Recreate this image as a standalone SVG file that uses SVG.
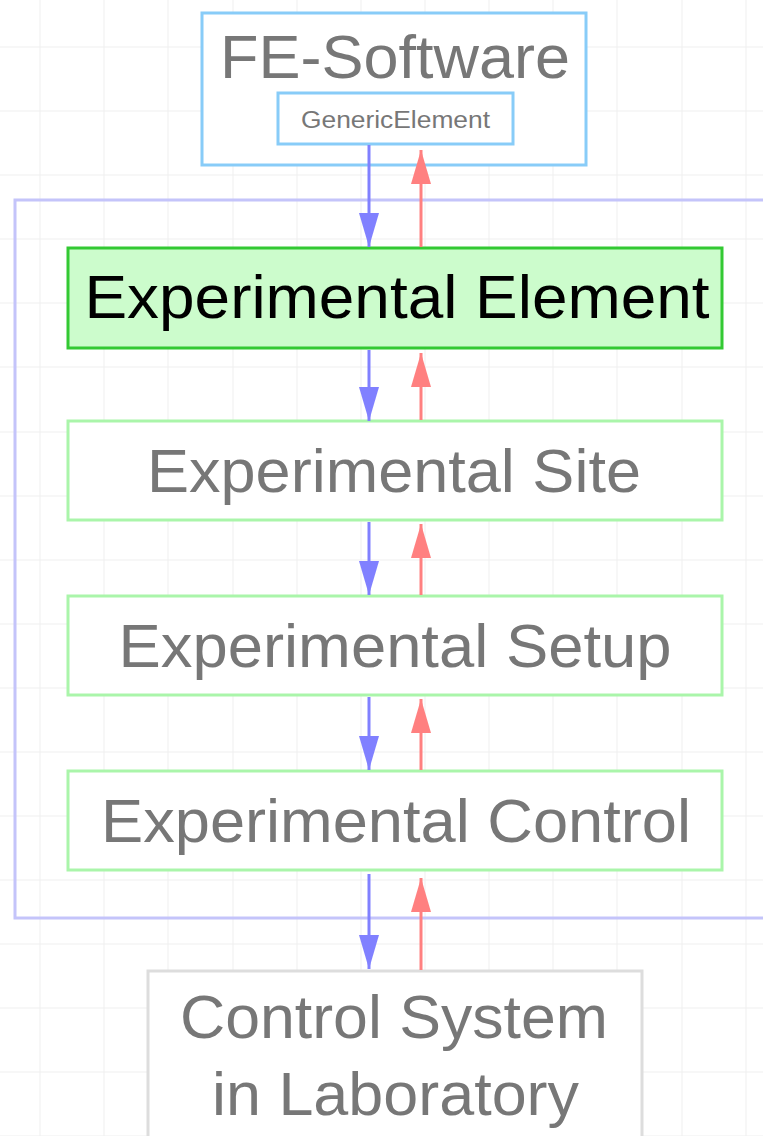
<svg xmlns="http://www.w3.org/2000/svg" width="763" height="1136" viewBox="0 0 763 1136">
<style>
.grid{stroke:#efefef;stroke-width:1;fill:none}
.t{font-family:"Liberation Sans",Arial,sans-serif;fill:#777777;text-anchor:middle}
.blue{stroke:#8080ff;stroke-width:3;fill:none}
.red{stroke:#ff8080;stroke-width:3;fill:none}
.sub{fill:#ffffff;stroke:#aaf5aa;stroke-width:3}
.fe{fill:#ffffff;stroke:#88ccf8;stroke-width:3}
</style>
<defs>
<marker id="hb" markerUnits="userSpaceOnUse" markerWidth="36" markerHeight="22" refX="34" refY="10" orient="auto"><path d="M0,0 L34,10 L0,20 z" fill="#8080ff"/></marker>
<marker id="hr" markerUnits="userSpaceOnUse" markerWidth="36" markerHeight="22" refX="34" refY="10" orient="auto"><path d="M0,0 L34,10 L0,20 z" fill="#ff8080"/></marker>
</defs>
<rect width="763" height="1136" fill="#ffffff"/>
<g id="grid">
<path class="grid" d="M40,0V1136 M104,0V1136 M168,0V1136 M233,0V1136 M297,0V1136 M361,0V1136 M425,0V1136 M489,0V1136 M553,0V1136 M617,0V1136 M682,0V1136 M746,0V1136 M0,47H763 M0,111H763 M0,175H763 M0,239H763 M0,303H763 M0,367H763 M0,432H763 M0,496H763 M0,560H763 M0,624H763 M0,688H763 M0,752H763 M0,816H763 M0,880H763 M0,944H763 M0,1008H763 M0,1072H763 M0,1136H763"/>
</g>
<g id="container">
<rect x="15" y="200" width="770" height="718" fill="none" stroke="#c4c4fa" stroke-width="3"/>
</g>
<g id="fe-software">
<rect class="fe" x="202" y="13" width="384" height="152"/>
<text class="t" x="395" y="78" font-size="62" textLength="350" lengthAdjust="spacingAndGlyphs">FE-Software</text>
</g>
<g id="generic-element">
<rect class="fe" x="278" y="93" width="235" height="51"/>
<text class="t" x="395.5" y="128" font-size="23" textLength="189" lengthAdjust="spacingAndGlyphs">GenericElement</text>
</g>
<g id="experimental-element">
<rect x="68" y="248" width="654" height="100" fill="#ccfccc" stroke="#33c933" stroke-width="3"/>
<text class="t" x="397" y="318" font-size="61" fill="#000000" style="fill:#000000" textLength="625" lengthAdjust="spacingAndGlyphs">Experimental Element</text>
</g>
<g id="experimental-site">
<rect class="sub" x="68" y="421" width="654" height="99"/>
<text class="t" x="394" y="492" font-size="61" textLength="494" lengthAdjust="spacingAndGlyphs">Experimental Site</text>
</g>
<g id="experimental-setup">
<rect class="sub" x="68" y="596" width="654" height="99"/>
<text class="t" x="395" y="667" font-size="61" textLength="553" lengthAdjust="spacingAndGlyphs">Experimental Setup</text>
</g>
<g id="experimental-control">
<rect class="sub" x="68" y="771" width="654" height="99"/>
<text class="t" x="396" y="842" font-size="61" textLength="590" lengthAdjust="spacingAndGlyphs">Experimental Control</text>
</g>
<g id="control-system">
<rect x="148" y="971" width="494" height="200" fill="#ffffff" stroke="#dddddd" stroke-width="3"/>
<text class="t" x="394" y="1038" font-size="62" textLength="428" lengthAdjust="spacingAndGlyphs">Control System</text>
<text class="t" x="395.5" y="1115" font-size="62" textLength="367" lengthAdjust="spacingAndGlyphs">in Laboratory</text>
</g>
<g id="connectors">
<line class="blue" x1="369" y1="145" x2="369" y2="247" marker-end="url(#hb)"/>
<line class="red" x1="421" y1="247" x2="421" y2="150" marker-end="url(#hr)"/>
<line class="blue" x1="369" y1="350" x2="369" y2="421" marker-end="url(#hb)"/>
<line class="red" x1="421" y1="420" x2="421" y2="353" marker-end="url(#hr)"/>
<line class="blue" x1="369" y1="522" x2="369" y2="595" marker-end="url(#hb)"/>
<line class="red" x1="421" y1="595" x2="421" y2="524" marker-end="url(#hr)"/>
<line class="blue" x1="369" y1="697" x2="369" y2="770" marker-end="url(#hb)"/>
<line class="red" x1="421" y1="770" x2="421" y2="699" marker-end="url(#hr)"/>
<line class="blue" x1="369" y1="874" x2="369" y2="969" marker-end="url(#hb)"/>
<line class="red" x1="421" y1="970" x2="421" y2="878" marker-end="url(#hr)"/>
</g>
</svg>
